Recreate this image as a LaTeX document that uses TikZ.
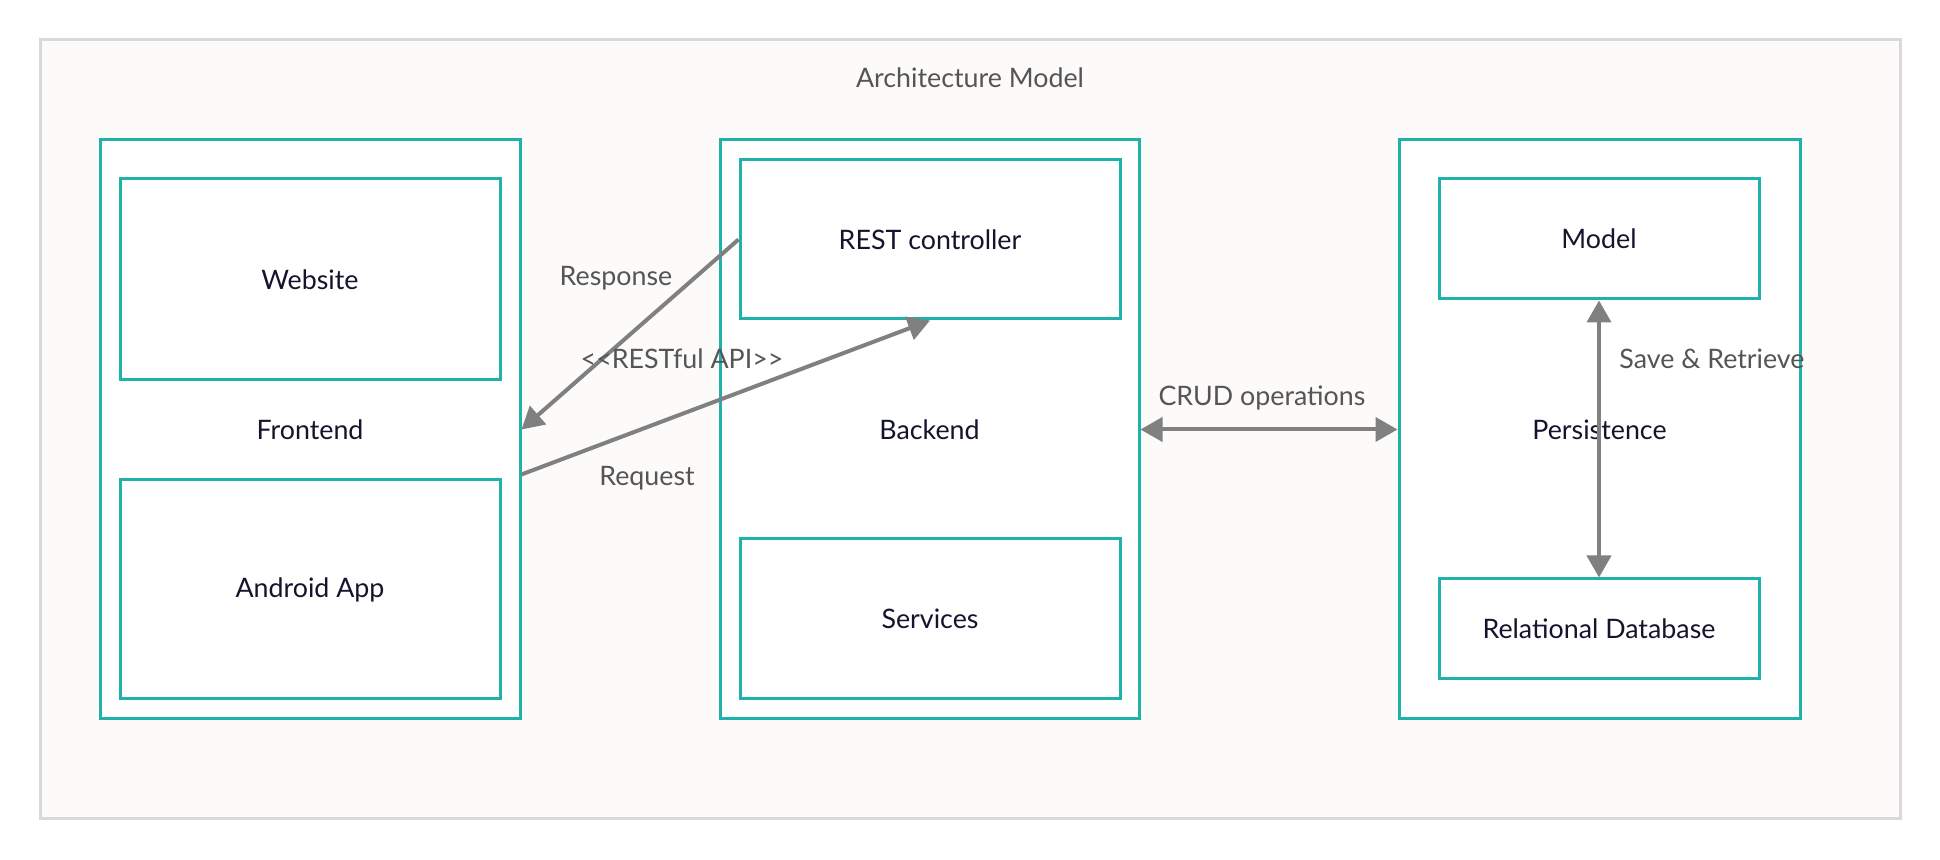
\documentclass[tikz,border=0pt]{standalone}
\usepackage{fontspec}
\setmainfont{Lato}
\usetikzlibrary{arrows.meta}

\definecolor{tealline}{RGB}{32,178,170}
\definecolor{framegray}{RGB}{217,217,217}
\definecolor{paper}{RGB}{252,251,250}
\definecolor{inktext}{RGB}{20,20,45}
\definecolor{labeltext}{RGB}{85,85,85}
\definecolor{wire}{RGB}{128,128,128}

\begin{document}
\begin{tikzpicture}[
    x=0.5pt, y=-0.5pt,
    font=\fontsize{13.4}{16}\selectfont,
    layer/.style={rectangle,draw=tealline,fill=white,line width=1.5pt,text=inktext,inner sep=0pt},
    part/.style={rectangle,draw=tealline,fill=white,line width=1.5pt,text=inktext,inner sep=0pt},
    lbl/.style={text=labeltext,inner sep=1pt},
    link/.style={draw=wire,line width=2pt,-{Triangle[length=11pt,width=12pt]}},
    both/.style={draw=wire,line width=2pt,{Triangle[length=11pt,width=12pt]}-{Triangle[length=11pt,width=12pt]}},
]
\useasboundingbox (0,0) rectangle (1940,860);

% Frame
\draw[framegray,fill=paper,line width=1.5pt] (40,40) rectangle (1900,819);
\node[lbl] (title) at (970,78) {Architecture Model};

%% Layers
\node[layer,minimum width=210pt,minimum height=289.5pt] (front) at (310,429.5) {Frontend};
\node[layer,minimum width=209.5pt,minimum height=289.5pt] (back) at (929.5,429.5) {Backend};
\node[layer,minimum width=200.5pt,minimum height=289.5pt] (pers) at (1599.5,429.5) {Persistence};

% Frontend parts
\node[part,minimum width=190pt,minimum height=100.5pt] (web) at (310,279.5) {Website};
\node[part,minimum width=190pt,minimum height=109.5pt] (app) at (310,589.5) {Android App};

% Backend parts
\node[part,minimum width=190pt,minimum height=79.5pt] (rest) at (930,239.5) {REST controller};
\node[part,minimum width=190pt,minimum height=80pt] (serv) at (930,619) {Services};

% Persistence parts
\node[part,minimum width=160pt,minimum height=60pt] (model) at (1599,239) {Model};
\node[part,minimum width=160pt,minimum height=50pt] (db) at (1599,629) {Relational Database};

%% Connectors
\draw[link] (rest.west) -- (front.east);
\draw[link] (front.-12) -- (rest.south);
\draw[both] (back.east) -- (pers.west);
\draw[both] (model.south) -- (db.north);

% Connector labels
\node[lbl] (resp) at (616,278) {Response};
\node[lbl] (api) at (682,359) {{<}{<}RESTful API{>}{>}};
\node[lbl] (req) at (647,478) {Request};
\node[lbl] (crud) at (1262,398) {CRUD operations};
\node[lbl] (save) at (1712,359) {Save \& Retrieve};

\end{tikzpicture}
\end{document}
